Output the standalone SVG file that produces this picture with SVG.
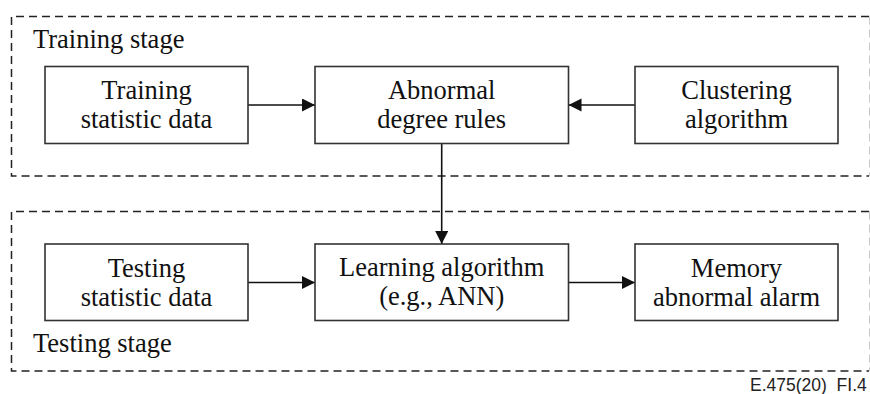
<svg xmlns="http://www.w3.org/2000/svg" width="870" height="394" viewBox="0 0 870 394">
  <style>
    .stage { fill: none; stroke: #222; stroke-width: 1.5; stroke-dasharray: 8 5; }
    .stage-edge { fill: none; stroke: #c8c8c8; stroke-width: 1; stroke-dasharray: 8 5; }
    .box { fill: #fff; stroke: #333; stroke-width: 1.6; }
    .lbl { font-family: "Liberation Serif", "Times New Roman", serif; font-size: 26.5px; fill: #111; text-anchor: middle; }
    .stage-lbl { font-family: "Liberation Serif", "Times New Roman", serif; font-size: 26.5px; fill: #111; }
    .ref { font-family: "Liberation Sans", Arial, sans-serif; font-size: 17.5px; fill: #222; white-space: pre; }
    .conn { fill: none; stroke: #111; stroke-width: 1.6; }
  </style>
  <defs>
    <marker id="head" markerUnits="userSpaceOnUse" markerWidth="14" markerHeight="14" refX="13" refY="6.5" orient="auto">
      <path d="M0,0 L13,6.5 L0,13 z" fill="#111"/>
    </marker>
  </defs>
  <rect width="870" height="394" fill="#fff"/>

  <!-- stage frames -->
  <g id="training-stage">
    <path class="stage" d="M869,16.5 H11.5 V176 H869"/>
    <path class="stage-edge" d="M869.5,16.5 V176"/>
    <text class="stage-lbl" x="33" y="48">Training stage</text>
  </g>
  <g id="testing-stage">
    <path class="stage" d="M869,211.5 H11.5 V371 H869"/>
    <path class="stage-edge" d="M869.5,211.5 V371"/>
    <text class="stage-lbl" x="33" y="351.5">Testing stage</text>
  </g>

  <!-- connectors -->
  <g id="connectors">
    <line class="conn" x1="248" y1="105" x2="315" y2="105" marker-end="url(#head)"/>
    <line class="conn" x1="635" y1="105" x2="568.5" y2="105" marker-end="url(#head)"/>
    <line class="conn" x1="441.7" y1="143.5" x2="441.7" y2="244" marker-end="url(#head)"/>
    <line class="conn" x1="248" y1="282.5" x2="315" y2="282.5" marker-end="url(#head)"/>
    <line class="conn" x1="568.5" y1="282.5" x2="635" y2="282.5" marker-end="url(#head)"/>
  </g>

  <!-- training nodes -->
  <g id="training-data">
    <rect class="box" x="45" y="66.5" width="203" height="77"/>
    <text class="lbl" x="146.5" y="99.3">Training</text>
    <text class="lbl" x="146.5" y="128.3">statistic data</text>
  </g>
  <g id="abnormal-rules">
    <rect class="box" x="315" y="66.5" width="253.5" height="77"/>
    <text class="lbl" x="441.7" y="98.5">Abnormal</text>
    <text class="lbl" x="441.7" y="127.5">degree rules</text>
  </g>
  <g id="clustering">
    <rect class="box" x="635" y="66.5" width="203" height="77"/>
    <text class="lbl" x="736.5" y="98.5">Clustering</text>
    <text class="lbl" x="736.5" y="127.5">algorithm</text>
  </g>

  <!-- testing nodes -->
  <g id="testing-data">
    <rect class="box" x="45" y="244" width="203" height="76.5"/>
    <text class="lbl" x="146.5" y="276.5">Testing</text>
    <text class="lbl" x="146.5" y="305.5">statistic data</text>
  </g>
  <g id="learning">
    <rect class="box" x="315" y="244" width="253.5" height="76.5"/>
    <text class="lbl" x="441.7" y="275.5">Learning algorithm</text>
    <text class="lbl" x="441.7" y="304.5">(e.g., ANN)</text>
  </g>
  <g id="memory-alarm">
    <rect class="box" x="635" y="244" width="203" height="76.5"/>
    <text class="lbl" x="736.5" y="276.5">Memory</text>
    <text class="lbl" x="736.5" y="305.5">abnormal alarm</text>
  </g>

  <text class="ref" x="750" y="390.5" xml:space="preserve">E.475(20)  FI.4</text>
</svg>
